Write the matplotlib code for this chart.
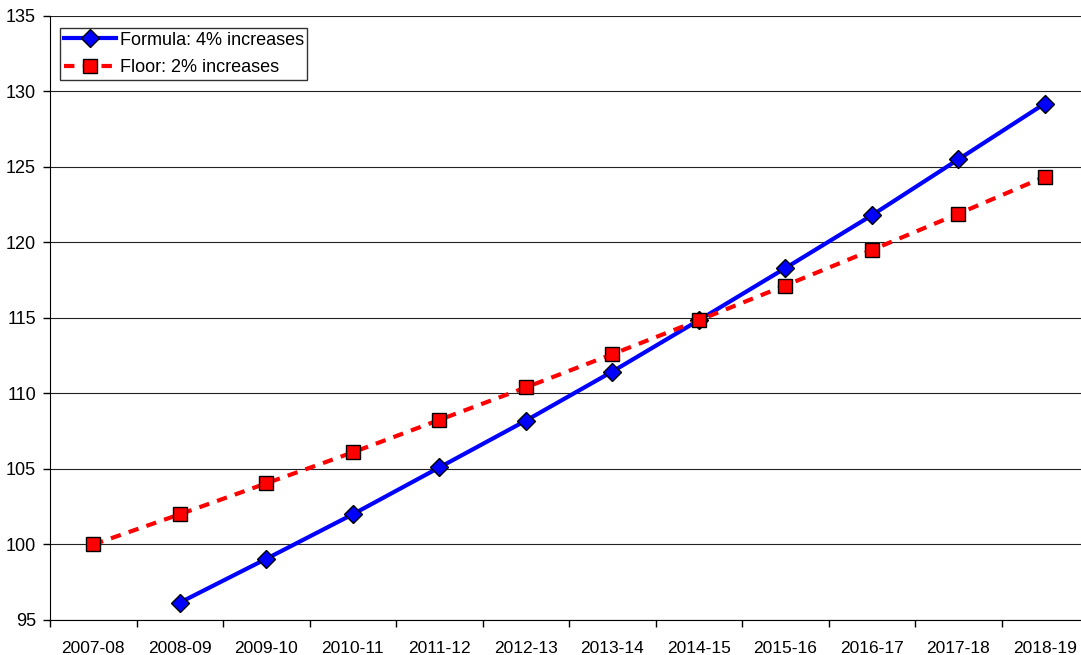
import matplotlib.pyplot as plt
import numpy as np

plt.rcParams['font.family'] = ['Liberation Sans', 'DejaVu Sans']

years = ["2007-08", "2008-09", "2009-10", "2010-11", "2011-12", "2012-13",
         "2013-14", "2014-15", "2015-16", "2016-17", "2017-18", "2018-19"]

# Formula series starts one year later
formula = [np.nan, 96.15, 99.05, 102.0, 105.1, 108.2, 111.45,
           114.85, 118.3, 121.8, 125.5, 129.2]
floor = [100.0, 102.0, 104.05, 106.1, 108.25, 110.4, 112.6,
         114.85, 117.15, 119.5, 121.9, 124.35]

x = np.arange(len(years))

fig = plt.figure(figsize=(10.81, 6.55), dpi=100)
ax = fig.add_axes([50 / 1081, 1 - 620 / 655, 1038 / 1081, 604 / 655])

ax.plot(x, formula, color="#0000ff", lw=3, marker="D", ms=9,
        mfc="#0000ff", mec="black", mew=1, label="Formula: 4% increases", zorder=3)
ax.plot(x, floor, color="#ff0000", lw=3, ls=(0, (2.5, 2)), marker="s", ms=10,
        mfc="#ff0000", mec="black", mew=1, label="Floor: 2% increases", zorder=3)

ax.set_xlim(-0.5, len(years) - 0.5)
ax.set_ylim(95, 135)
ax.set_yticks(np.arange(95, 136, 5))
ax.set_xticks(x)
ax.set_xticklabels(years)
ax.set_xticks(np.arange(-0.5, len(years), 1), minor=True)
ax.tick_params(axis="x", which="major", length=0, pad=15, labelsize=12.5)
ax.tick_params(axis="x", which="minor", length=5, width=1)
ax.tick_params(axis="y", length=5, width=1, labelsize=13, pad=5)

ax.grid(axis="y", color="#222222", lw=0.8)
ax.set_axisbelow(True)
for s in ["top", "right"]:
    ax.spines[s].set_visible(False)
ax.spines["left"].set_color("black")
ax.spines["bottom"].set_color("black")

leg = ax.legend(loc="upper left", bbox_to_anchor=(0.0096, 0.98), borderaxespad=0,
                fontsize=13, frameon=True, fancybox=False, edgecolor="black",
                handlelength=2.9, borderpad=0.2, labelspacing=0.58, handletextpad=0.2)
leg.get_frame().set_linewidth(1)

fig.savefig("out.png", dpi=100)
